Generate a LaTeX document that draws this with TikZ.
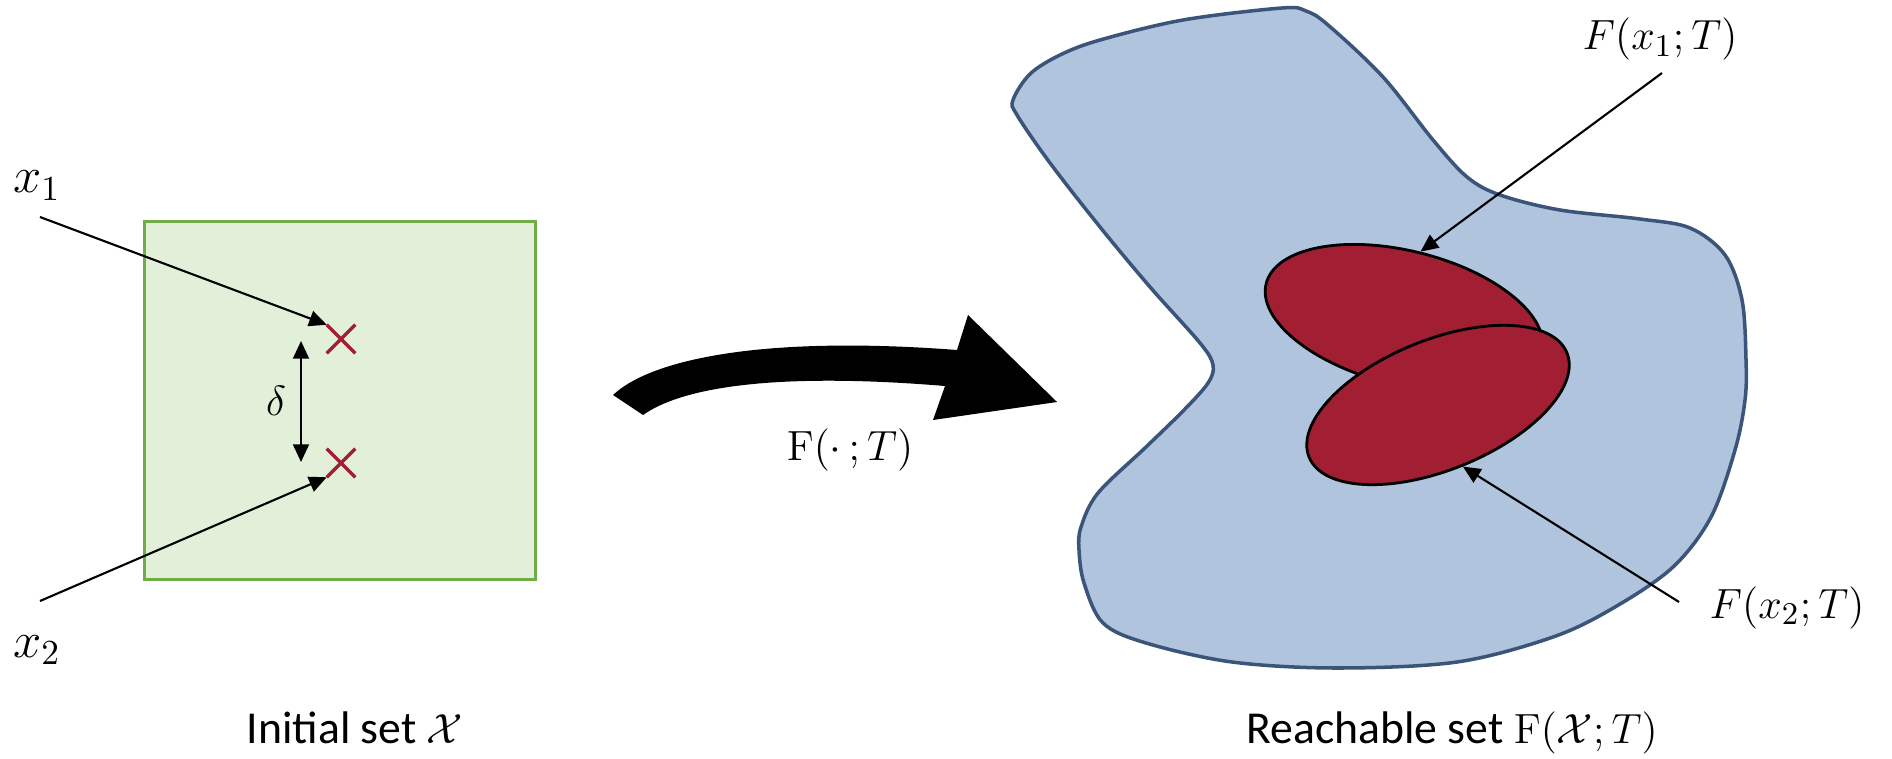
\documentclass[tikz,border=0pt]{standalone}
\usepackage[no-math]{fontspec}
\setmainfont{Carlito}
\usetikzlibrary{arrows.meta,shapes.geometric,shapes.misc}
\definecolor{boxfill}{HTML}{E2F0D9}
\definecolor{boxline}{HTML}{70AD47}
\definecolor{blobfill}{RGB}{176,196,222}
\definecolor{blobline}{RGB}{58,84,122}
\definecolor{darkred}{RGB}{161,30,51}
\begin{document}
\begin{tikzpicture}[x=0.01cm,y=-0.01cm,
  lab/.style={font=\fontsize{13pt}{15pt}\selectfont, inner sep=0pt, anchor=base},
  biglab/.style={lab, font=\fontsize{14.5pt}{16pt}\selectfont},
  ptr/.style={line width=0.6pt, -{Triangle[length=5pt,width=4.5pt]}},
  dptr/.style={line width=0.6pt, {Triangle[length=5pt,width=4.5pt]}-{Triangle[length=5pt,width=4.5pt]}},
  crossmark/.style={cross out, draw=darkred, line width=1pt, minimum size=0.25cm, inner sep=0pt},
  blob/.style={fill=blobfill, draw=blobline, line width=1pt},
  redell/.style={ellipse, fill=darkred, draw=black, line width=0.8pt, inner sep=0pt},
]
\useasboundingbox (0,0) rectangle (1892,758);

% ---- initial set ----
\node[draw=boxline, fill=boxfill, line width=0.9pt, minimum width=3.9cm, minimum height=3.57cm, inner sep=0pt] (box) at (340,400.5) {};
\node[crossmark] (p1) at (341,339) {};
\node[crossmark] (p2) at (341,463) {};
\coordinate (s1) at (40,217);
\coordinate (s2) at (40,601);
\draw[ptr] (s1) -- (p1.north west);
\draw[ptr] (s2) -- (p2.south west);
\coordinate (d1) at (301,341);
\coordinate (d2) at (301,462);
\draw[dptr] (d1) -- (d2);
\node[biglab] (x1lab) at (37,193) {$x_1$};
\node[biglab] (x2lab) at (37,657) {$x_2$};
\node[lab] (dlab) at (276,415) {$\delta$};
\node[lab] (ilab) at (355,743) {Initial set $\mathcal{X}$};

% ---- big arrow ----
\fill[black] (613,395) .. controls (650,360) and (760,335) .. (957,350)
  -- (968,315) -- (1057,402) -- (933,420) -- (945,386)
  .. controls (800,374) and (690,382) .. (643,415) -- cycle;
\node[lab] (flab) at (850,460) {$\mathrm{F}(\cdot\,;T)$};

% ---- reachable set ----
\draw[blob] plot[smooth cycle, tension=0.55] coordinates {
  (1013,100) (1030,74) (1060,55) (1100,40) (1183,20) (1282,8) (1306,11)
  (1328,25) (1383,77) (1433,140) (1467,177) (1500,195) (1560,210)
  (1640,219) (1690,228) (1725,255) (1742,300) (1746,360) (1745,400)
  (1735,450) (1711,517) (1673,567) (1615,607) (1553,637) (1457,662)
  (1337,668) (1232,662) (1146,643) (1103,623) (1084,583) (1079,550)
  (1081,527) (1098,493) (1146,447) (1184,410) (1208,383) (1213,365)
  (1200,343) (1150,287) (1100,227) (1050,163) (1017,115)};
\node[redell, minimum width=2.84cm, minimum height=1.34cm, rotate=-14] (e1) at (1404,318) {};
\node[redell, minimum width=2.78cm, minimum height=1.30cm, rotate=22] (e2) at (1438,405) {};
\coordinate (f1s) at (1662,73);
\coordinate (f2s) at (1679,602);
\draw[ptr] (f1s) -- (e1.north);
\draw[ptr] (f2s) -- (e2.south);
\node[lab] (f1lab) at (1660,50) {$F(x_1;T)$};
\node[lab] (f2lab) at (1787,618) {$F(x_2;T)$};
\node[lab] (rlab) at (1452,743) {Reachable set $\mathrm{F}(\mathcal{X};T)$};
\end{tikzpicture}
\end{document}
